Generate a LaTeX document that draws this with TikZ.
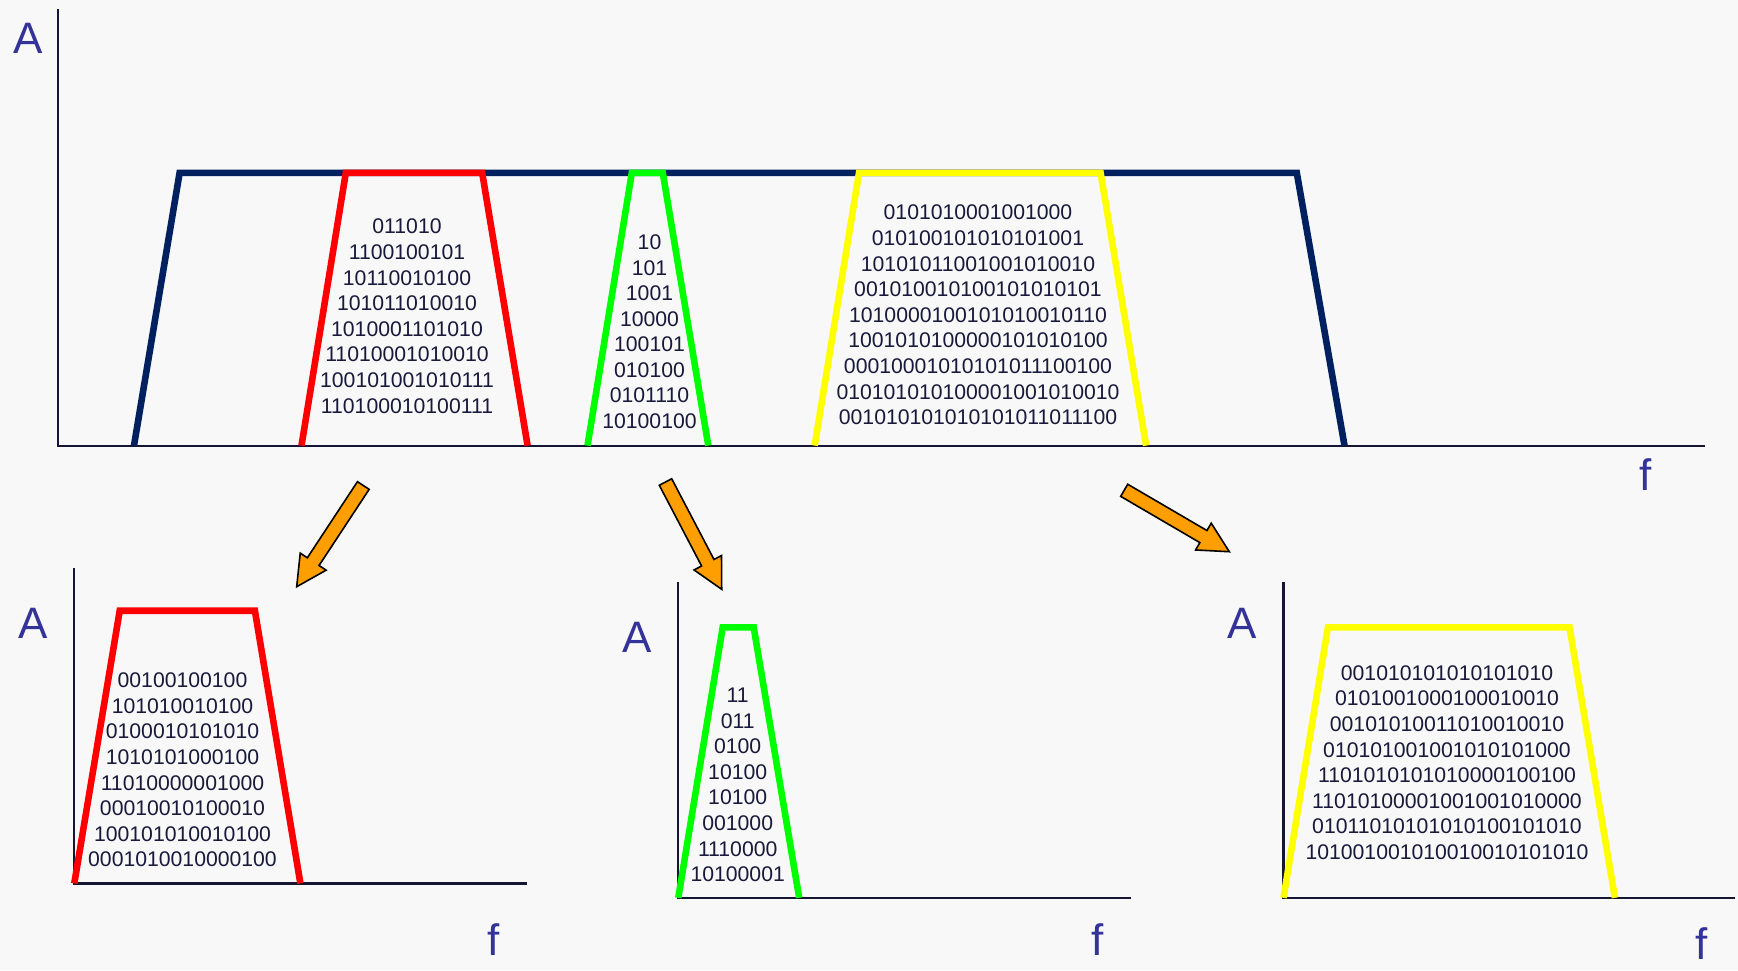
\documentclass[tikz,border=0pt]{standalone}
\usepackage{fontspec}
\setmainfont{Liberation Sans}
\usetikzlibrary{calc}
\definecolor{bgc}{RGB}{248,248,248}
\definecolor{axc}{RGB}{22,22,52}
\definecolor{navyc}{RGB}{0,32,96}
\definecolor{redc}{RGB}{255,0,0}
\definecolor{grnc}{RGB}{0,255,0}
\definecolor{yelc}{RGB}{255,255,0}
\definecolor{orc}{RGB}{255,158,0}
\definecolor{lblc}{RGB}{51,51,153}
\definecolor{bitc}{RGB}{25,25,60}
\newcommand{\blkarrow}[2]{%
  \coordinate (ba) at ($(#2)!15pt!(#1)$);
  \draw[blk] ($(#1)!3.5pt!90:(#2)$) -- ($(ba)!3.5pt!90:(#2)$) -- ($(ba)!7.75pt!90:(#2)$) -- (#2)
    -- ($(ba)!7.75pt!-90:(#2)$) -- ($(ba)!3.5pt!-90:(#2)$) -- ($(#1)!3.5pt!-90:(#2)$) -- cycle;}
\begin{document}
\begin{tikzpicture}[x=0.5pt,y=-0.5pt,
  axis/.style={line width=1.1pt, draw=axc},
  band/.style={line width=3.3pt},
  bits/.style={align=center, text=bitc, font=\fontsize{10.6}{12.79}\selectfont, inner sep=0pt},
  lbl/.style={text=lblc, font=\fontsize{22}{26}\selectfont, inner sep=0pt},
  blk/.style={fill=orc, draw=black, line width=0.8pt, line join=miter}]
\useasboundingbox[fill=bgc] (0,0) rectangle (1738,970);

% ---------- main spectrum ----------
\coordinate (y1) at (57.6,9);
\coordinate (o1) at (57.6,445.6);
\coordinate (x1) at (1704.7,445.6);
\draw[axis] (y1) -- (o1) -- (x1);
\node[lbl] (A1) at (27.7,38.8) {A};
\node[lbl] (f1) at (1646,475) {f};

\draw[band, navyc] (134,445.6) -- (179.6,172.9) -- (1296.8,172.9) -- (1344.5,445.6);
\draw[band, redc] (301.5,445.6) -- (345.8,172.9) -- (482.2,172.9) -- (527.6,445.6);
\draw[band, grnc] (587.5,445.6) -- (631.8,172.9) -- (662.8,172.9) -- (708.3,445.6);
\draw[band, yelc] (814.7,445.6) -- (859,172.9) -- (1100.6,172.9) -- (1146.1,445.6);

\node[bits] (b1) at (407,316.2) {011010\\1100100101\\10110010100\\101011010010\\1010001101010\\11010001010010\\100101001010111\\110100010100111};
\node[bits] (b2) at (649.5,331.7) {10\\101\\1001\\10000\\100101\\010100\\0101110\\10100100};
\node[bits] (b3) at (978,315) {0101010001001000\\010100101010101001\\10101011001001010010\\001010010100101010101\\1010000100101010010110\\1001010100000101010100\\00010001010101011100100\\010101010100001001010010\\001010101010101011011100};

% ---------- arrows ----------
\coordinate (t1) at (363.3,485.5); \coordinate (h1) at (296.7,586.7);
\coordinate (t2) at (665.5,482);   \coordinate (h2) at (721.7,589.3);
\coordinate (t3) at (1124.2,490.3); \coordinate (h3) at (1229.3,551.7);
\blkarrow{t1}{h1}
\blkarrow{t2}{h2}
\blkarrow{t3}{h3}

% ---------- bottom left (red) ----------
\coordinate (y2) at (74.3,567.5);
\coordinate (o2) at (74.3,883.4);
\coordinate (x2) at (526.5,883.4);
\draw[axis] (y2) -- (o2) -- (x2);
\node[lbl] (A2) at (33.3,623) {A};
\node[lbl] (f2) at (493.2,940) {f};
\draw[band, redc] (74.3,883.4) -- (119.7,610.7) -- (254.9,610.7) -- (300.4,883.4);
\node[bits] (b4) at (182.5,770) {00100100100\\101010010100\\0100010101010\\1010101000100\\11010000001000\\00010010100010\\100101010010100\\0001010010000100};

% ---------- bottom middle (green) ----------
\coordinate (y3) at (678.3,581.9);
\coordinate (o3) at (678.3,897.8);
\coordinate (x3) at (1130.6,897.8);
\draw[axis] (y3) -- (o3) -- (x3);
\node[lbl] (A3) at (637.3,637.3) {A};
\node[lbl] (f3) at (1097.3,940) {f};
\draw[band, grnc] (678.3,897.8) -- (722.7,627.4) -- (753.7,627.4) -- (799.2,897.8);
\node[bits] (b5) at (737.7,785) {11\\011\\0100\\10100\\10100\\001000\\1110000\\10100001};

% ---------- bottom right (yellow) ----------
\coordinate (y4) at (1283.5,581.9);
\coordinate (o4) at (1283.5,897.8);
\coordinate (x4) at (1734.7,897.8);
\draw[axis] (y4) -- (o4) -- (x4);
\node[lbl] (A4) at (1242.5,623) {A};
\node[lbl] (f4) at (1701.4,944) {f};
\draw[band, yelc] (1283.5,897.8) -- (1327.9,627.4) -- (1569.5,627.4) -- (1614.9,897.8);
\node[bits] (b6) at (1447,762.5) {001010101010101010\\0101001000100010010\\00101010011010010010\\010101001001010101000\\1101010101010000100100\\11010100001001001010000\\01011010101010100101010\\101001001010010010101010};
\end{tikzpicture}
\end{document}
